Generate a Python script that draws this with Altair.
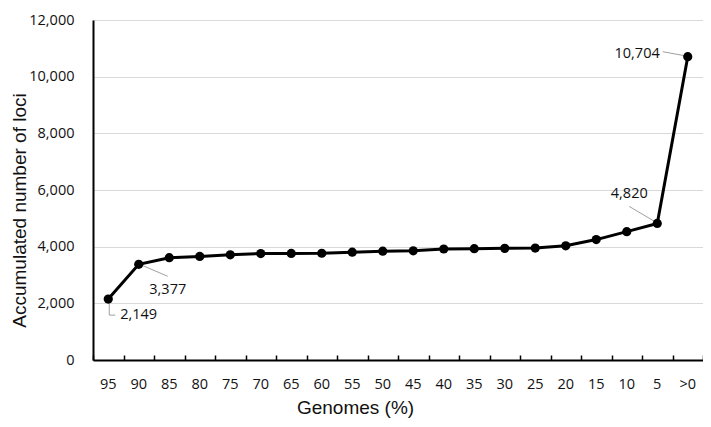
import altair as alt
import pandas as pd

categories = ["95", "90", "85", "80", "75", "70", "65", "60", "55", "50",
              "45", "40", "35", "30", "25", "20", "15", "10", "5", ">0"]
loci = [2149, 3377, 3610, 3655, 3713, 3758, 3762, 3768, 3805, 3840,
        3852, 3918, 3930, 3940, 3950, 4030, 4250, 4530, 4820, 10704]
y_ticks = [0, 2000, 4000, 6000, 8000, 10000, 12000]
labels = {"95": "2,149", "90": "3,377", "5": "4,820", ">0": "10,704"}

df = pd.DataFrame({"cat": categories, "val": loci})
df["label"] = [labels.get(c, "") for c in categories]

W, H = 610, 340
FONT = "Open Sans"
TITLE_FONT = "Liberation Sans"

xscale = alt.Scale(domain=categories, paddingInner=0, paddingOuter=0)
yscale = alt.Scale(domain=[0, 12000], nice=False)

x_main = alt.X("cat:N", scale=xscale, sort=categories,
               axis=alt.Axis(title="Genomes (%)", labelAngle=0, ticks=False,
                             labelPadding=17, labelFont=FONT, labelFontSize=14.5,
                             labelColor="#111", domainColor="black", domainWidth=2,
                             titleFont=TITLE_FONT, titleFontSize=19, titleFontWeight="normal",
                             titleColor="#111", titleX=262, titleY=38,
                             titleAnchor="start", titleAlign="center", titleBaseline="top",
                             grid=False))
y_main = alt.Y("val:Q", scale=yscale,
               axis=alt.Axis(title="Accumulated number of loci", values=y_ticks, format=",.0f",
                             ticks=False, labelPadding=19, labelFont=FONT, labelFontSize=14.5,
                             labelColor="#111", domainColor="black", domainWidth=2,
                             gridColor="#d9d9d9", gridWidth=1,
                             titleFont=TITLE_FONT, titleFontSize=19, titleFontWeight="normal",
                             titleColor="#111", titleX=-74, titleY=190, titleAngle=-90,
                             titleAlign="center", titleBaseline="middle"))
x_plain = alt.X("cat:N", scale=xscale, sort=categories, axis=None)
y_plain = alt.Y("val:Q", scale=yscale, axis=None)

base = alt.Chart(df)

line = base.mark_line(color="black", strokeWidth=3).encode(x=x_main, y=y_main)
pts = base.mark_circle(color="black", opacity=1, size=85).encode(x=x_plain, y=y_plain)

# inward x-axis ticks at band boundaries (a top axis moved down onto the bottom edge)
ticks = base.mark_point(opacity=0).encode(
    x=alt.X("cat:N", scale=xscale, sort=categories,
            axis=alt.Axis(orient="top", offset=-H, labels=False, domain=False,
                          tickBand="extent", tickSize=5, tickColor="black",
                          tickWidth=1.5, title=None, grid=False)),
    y=y_plain)


def ann_text(cat, align, dx, dy):
    return base.transform_filter(alt.datum.cat == cat).mark_text(
        font=FONT, fontSize=14.5, color="#111", align=align, baseline="middle",
        dx=dx, dy=dy).encode(x=x_plain, y=y_plain, text="label:N")


def leader(cat, x1, y1, x2, y2):
    return base.transform_filter(alt.datum.cat == cat).mark_rule(
        color="#a0a0a0", strokeWidth=1,
        xOffset=x1, yOffset=y1, x2Offset=x2, y2Offset=y2).encode(
        x=x_plain, x2=alt.X2("cat:N"), y=y_plain, y2=alt.Y2("val:Q"))


layers = [
    line,
    leader("95", 1, 4, 1, 16),
    leader("95", 1, 16, 7, 16),
    leader("90", 1, 0, 29, 12),
    leader("5", -28, -17, -1, -1),
    leader(">0", -25, -5, -3, -1),
    pts, ticks,
    ann_text("95", "left", 12, 16),
    ann_text("90", "center", 29, 26),
    ann_text("5", "center", -28, -29),
    ann_text(">0", "right", -28, -3),
]

chart = alt.layer(*layers).resolve_axis(x="independent", y="independent").properties(
    width=W, height=H,
    autosize=alt.AutoSizeParams(type="none"),
    padding={"left": 85, "top": 12, "right": 0, "bottom": 59},
).configure_view(stroke=None)

chart.save("out.html", embed_options={"renderer": "svg", "actions": False})
